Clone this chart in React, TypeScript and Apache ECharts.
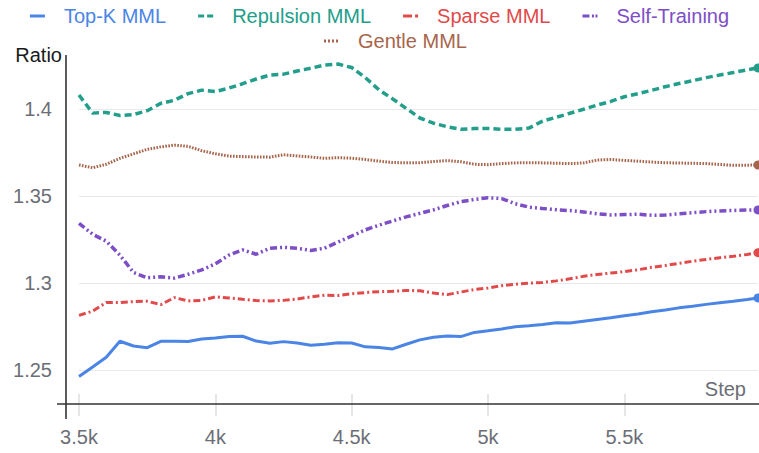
import React, { useEffect, useRef } from 'react';
import * as echarts from 'echarts';

const steps = [
  3500, 3550, 3600, 3650, 3700, 3750, 3800, 3850, 3900, 3950,
  4000, 4050, 4100, 4150, 4200, 4250, 4300, 4350, 4400, 4450,
  4500, 4550, 4600, 4650, 4700, 4750, 4800, 4850, 4900, 4950,
  5000, 5050, 5100, 5150, 5200, 5250, 5300, 5350, 5400, 5450,
  5500, 5550, 5600, 5650, 5700, 5750, 5800, 5850, 5900, 5950, 5990,
];

const topK = [
  1.2462, 1.2517, 1.2573, 1.2665, 1.2638, 1.2628, 1.2665, 1.2665, 1.2664, 1.2678,
  1.2684, 1.2692, 1.2694, 1.2666, 1.2654, 1.2663, 1.2655, 1.2642, 1.2648, 1.2656,
  1.2655, 1.2633, 1.2629, 1.2621, 1.2648, 1.2673, 1.2688, 1.2695, 1.2692, 1.2716,
  1.2725, 1.2735, 1.2749, 1.2754, 1.2761, 1.2771, 1.277, 1.278, 1.279, 1.28,
  1.2812, 1.2822, 1.2835, 1.2845, 1.2857, 1.2866, 1.2877, 1.2886, 1.2895, 1.2905, 1.2914,
];

const repulsion = [
  1.408, 1.3976, 1.398, 1.3962, 1.3968, 1.399, 1.4032, 1.405, 1.4088, 1.4108,
  1.41, 1.412, 1.4145, 1.4172, 1.4195, 1.42, 1.4218, 1.4234, 1.4252, 1.4258,
  1.4238, 1.418, 1.411, 1.4058, 1.4003, 1.3948, 1.3918, 1.3898, 1.3883, 1.3887,
  1.3888, 1.3883, 1.3883, 1.389, 1.393, 1.3952, 1.3975, 1.3998, 1.4022, 1.4043,
  1.407, 1.4088, 1.4107, 1.4128, 1.4146, 1.4162, 1.418, 1.4195, 1.4209, 1.4225, 1.4236,
];

const sparse = [
  1.2814, 1.2838, 1.2888, 1.2887, 1.2893, 1.2895, 1.2876, 1.2916, 1.2897, 1.29,
  1.292, 1.2914, 1.2906, 1.2899, 1.2897, 1.29, 1.2908, 1.292, 1.293, 1.2928,
  1.2938, 1.2945, 1.295, 1.2952, 1.2957, 1.2955, 1.2942, 1.2933, 1.2948, 1.2962,
  1.2971, 1.2984, 1.2993, 1.2999, 1.3003, 1.3012, 1.3024, 1.3038, 1.3049, 1.3057,
  1.3065, 1.3076, 1.309, 1.31, 1.3113, 1.3125, 1.3135, 1.3145, 1.3153, 1.3164, 1.3174,
];

const selfTraining = [
  1.3343, 1.328, 1.324, 1.316, 1.306, 1.303, 1.3036, 1.3028, 1.305, 1.3075,
  1.311, 1.316, 1.319, 1.3165, 1.32, 1.3205, 1.3199, 1.3187, 1.32, 1.3235,
  1.327, 1.3305, 1.3332, 1.3356, 1.338, 1.34, 1.342, 1.3445, 1.3467, 1.348,
  1.349, 1.3485, 1.3455, 1.3436, 1.3428, 1.3421, 1.3416, 1.3408, 1.3398, 1.3391,
  1.3393, 1.3395, 1.3389, 1.339, 1.3397, 1.3404, 1.341, 1.3414, 1.3417, 1.3419, 1.342,
];

const gentle = [
  1.3678, 1.3662, 1.3682, 1.3716, 1.3742, 1.3768, 1.3782, 1.3792, 1.3785, 1.376,
  1.3742, 1.3729, 1.3726, 1.3724, 1.3723, 1.3737, 1.373, 1.3724, 1.3716, 1.372,
  1.3717, 1.371, 1.37, 1.3692, 1.3691, 1.3691, 1.3698, 1.3703, 1.3697, 1.3682,
  1.368, 1.3686, 1.369, 1.3691, 1.369, 1.3688, 1.3686, 1.369, 1.3706, 1.371,
  1.3704, 1.37, 1.3695, 1.3691, 1.3689, 1.3688, 1.3686, 1.3681, 1.3676, 1.3677, 1.3678,
];

const xTickValues = [3500, 4000, 4500, 5000, 5500];
const yTickValues = [1.25, 1.3, 1.35, 1.4];

const seriesNames = ['Top-K MML', 'Repulsion MML', 'Sparse MML', 'Self-Training', 'Gentle MML'];
const seriesValues = [topK, repulsion, sparse, selfTraining, gentle];
const colors = ['#4a85e6', '#229e8a', '#e04a4a', '#7d4fc7', '#a7654b'];
const lineWidths = [3, 3.5, 3, 3.5, 3];
const lineTypes: any[] = ['solid', [7, 4], [7, 3, 2, 3], [7, 3, 2, 3, 2, 3], [1.6, 1.4]];
const legendIcons = [
  'path://M0,0h15v3h-15zM29,0',
  'path://M0,0h6v3h-6zM9,0h6v3h-6zM29,0',
  'path://M0,0h9v3h-9zM12,0h3v3h-3zM29,0',
  'path://M0,0h7v3h-7zM9.5,0h2v3h-2zM13,0h2v3h-2zM29,0',
  'path://M0,0h2v3h-2zM4,0h2v3h-2zM8,0h2v3h-2zM12,0h2v3h-2zM29,0',
];

const FONT = '"Liberation Sans", Arial, Helvetica, sans-serif';

export default function App() {
  const ref = useRef<HTMLDivElement>(null);

  useEffect(() => {
    if (!ref.current) return;
    const chart = echarts.init(ref.current, undefined, { renderer: 'svg' });
    const last = steps.length - 1;

    const legendData = seriesNames.map((name, i) => ({
      name,
      icon: legendIcons[i],
      textStyle: { color: colors[i] },
    }));

    const legendBase = {
      orient: 'horizontal',
      padding: 0,
      itemWidth: 29,
      itemHeight: 20,
      itemGap: 32,
      selectedMode: false,
      itemStyle: { borderWidth: 0 },
      textStyle: { fontSize: 20, fontFamily: FONT },
    };

    chart.setOption({
      animation: false,
      textStyle: { fontFamily: FONT },
      legend: [
        { ...legendBase, data: legendData.slice(0, 4), left: 'center', top: 6 },
        { ...legendBase, data: legendData.slice(4), left: 324, top: 31 },
      ],
      grid: { left: 79, right: 1, top: 55, bottom: 59 },
      xAxis: {
        type: 'value',
        min: 3500,
        max: 5990,
        axisLine: { show: false },
        splitLine: { show: false },
        axisTick: {
          show: true,
          length: 22,
          customValues: xTickValues,
          lineStyle: { color: '#dedede', width: 1.5 },
        },
        axisLabel: {
          customValues: xTickValues,
          margin: 33,
          fontSize: 20,
          color: '#6b6e76',
          fontFamily: FONT,
          formatter: (v: number) => `${v / 1000}k`,
        },
      },
      yAxis: {
        type: 'value',
        min: 1.2362,
        max: 1.431,
        axisLine: { show: false },
        axisTick: { show: false, customValues: yTickValues },
        splitLine: { show: true, lineStyle: { color: '#e9e9e9', width: 1 } },
        axisLabel: {
          customValues: yTickValues,
          margin: 27,
          fontSize: 20,
          color: '#6b6e76',
          fontFamily: FONT,
          formatter: (v: number) => `${Number(v.toFixed(2))}`,
        },
      },
      graphic: [
        {
          type: 'line',
          shape: { x1: 57, y1: 404, x2: 759, y2: 404 },
          style: { stroke: '#333', lineWidth: 1.6 },
          z: 50,
        },
        {
          type: 'line',
          shape: { x1: 66, y1: 55, x2: 66, y2: 419 },
          style: { stroke: '#333', lineWidth: 1.6 },
          z: 50,
        },
        {
          type: 'text',
          x: 62,
          y: 55,
          style: {
            text: 'Ratio',
            align: 'right',
            verticalAlign: 'middle',
            fontSize: 20,
            fontFamily: FONT,
            fill: '#1a1a1a',
          },
        },
        {
          type: 'text',
          x: 746,
          y: 389,
          style: {
            text: 'Step',
            align: 'right',
            verticalAlign: 'middle',
            fontSize: 20,
            fontFamily: FONT,
            fill: '#6b6e76',
          },
        },
      ],
      series: seriesNames.map((name, i) => ({
        type: 'line',
        name,
        data: steps.map((s, j) => [s, seriesValues[i][j]]),
        showSymbol: true,
        symbol: 'circle',
        symbolSize: (_v: any, p: any) => (p.dataIndex === last ? 9 : 0),
        clip: false,
        color: colors[i],
        itemStyle: { color: colors[i], borderWidth: 0 },
        lineStyle: { color: colors[i], width: lineWidths[i], type: lineTypes[i] },
        emphasis: { disabled: true },
        silent: true,
        z: 3,
      })),
    });

    return () => chart.dispose();
  }, []);

  return (
    <div
      ref={ref}
      style={{ position: 'fixed', left: 0, top: 0, width: 759, height: 453, background: '#fff' }}
    />
  );
}
